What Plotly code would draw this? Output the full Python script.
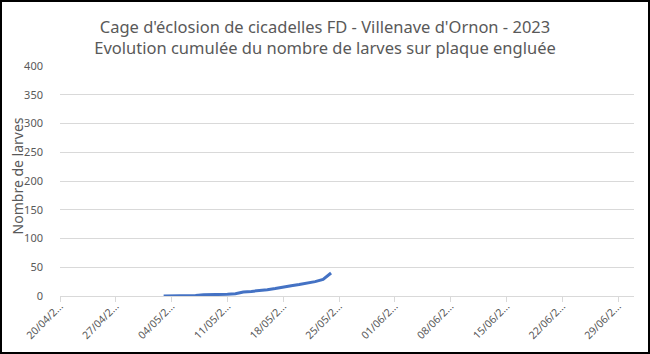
import plotly.graph_objects as go
import pandas as pd

dates = pd.date_range("2023-05-03", "2023-05-24", freq="D").strftime("%Y-%m-%d").tolist()
larves = [0, 0, 0, 1, 1, 2, 2, 3, 3, 4, 7, 8, 9, 11, 13, 16, 18, 20, 22, 25, 29, 40]

tick_dates = pd.date_range("2023-04-20", "2023-06-29", freq="7D")
tick_vals = tick_dates.strftime("%Y-%m-%d").tolist()
tick_text = [d.strftime("%d/%m/2") + "..." for d in tick_dates]
y_ticks = [0, 50, 100, 150, 200, 250, 300, 350, 400]

title_text = "Cage d'éclosion de cicadelles FD - Villenave d'Ornon - 2023<br>Evolution cumulée du nombre de larves sur plaque engluée"
y_title = "Nombre de larves"

W, H = 650, 354
ml, mr, mt, mb = 60, 16, 66, 58
pw, ph = W - ml - mr, H - mt - mb

fig = go.Figure()
fig.add_trace(go.Scatter(x=dates, y=larves, mode="lines",
                         line=dict(color="#4472C4", width=3), showlegend=False))

fig.update_layout(
    width=W, height=H,
    margin=dict(l=ml, r=mr, t=mt, b=mb, autoexpand=False),
    paper_bgcolor="white", plot_bgcolor="white",
    font=dict(family="Noto Sans", color="#595959", size=11),
    title=dict(text=title_text, x=0.5, xanchor="center", xref="container",
               y=1 - 33 / H, yanchor="top", yref="container",
               font=dict(size=16.5, color="#595959")),
    xaxis=dict(range=["2023-04-20", "2023-07-01"], tickvals=tick_vals, ticktext=tick_text,
               tickangle=-45, showgrid=False, showline=True, linecolor="#d9d9d9",
               ticks="outside", tickcolor="#d9d9d9", ticklen=5, zeroline=False,
               automargin=False, ticklabelstandoff=-6,
               tickfont=dict(size=10.5, color="#595959")),
    yaxis=dict(range=[0, 400], tickvals=y_ticks, showgrid=True, gridcolor="#d9d9d9",
               zeroline=False, showline=False, ticks="", ticklabelstandoff=16,
               automargin=False,
               tickfont=dict(size=11, color="#595959")),
    annotations=[dict(text=y_title, xref="paper", yref="paper",
                      x=(17 - ml) / pw, y=0.52, xanchor="center", yanchor="middle",
                      textangle=-90, showarrow=False,
                      font=dict(size=14, color="#595959"))],
    shapes=[dict(type="rect", xref="paper", yref="paper",
                 x0=(-ml + 1) / pw, x1=(W - ml - 1) / pw,
                 y0=(-mb + 1) / ph, y1=(H - mb - 1) / ph,
                 line=dict(color="black", width=2), fillcolor="rgba(0,0,0,0)", layer="above")],
)

fig.write_html("out.html")
